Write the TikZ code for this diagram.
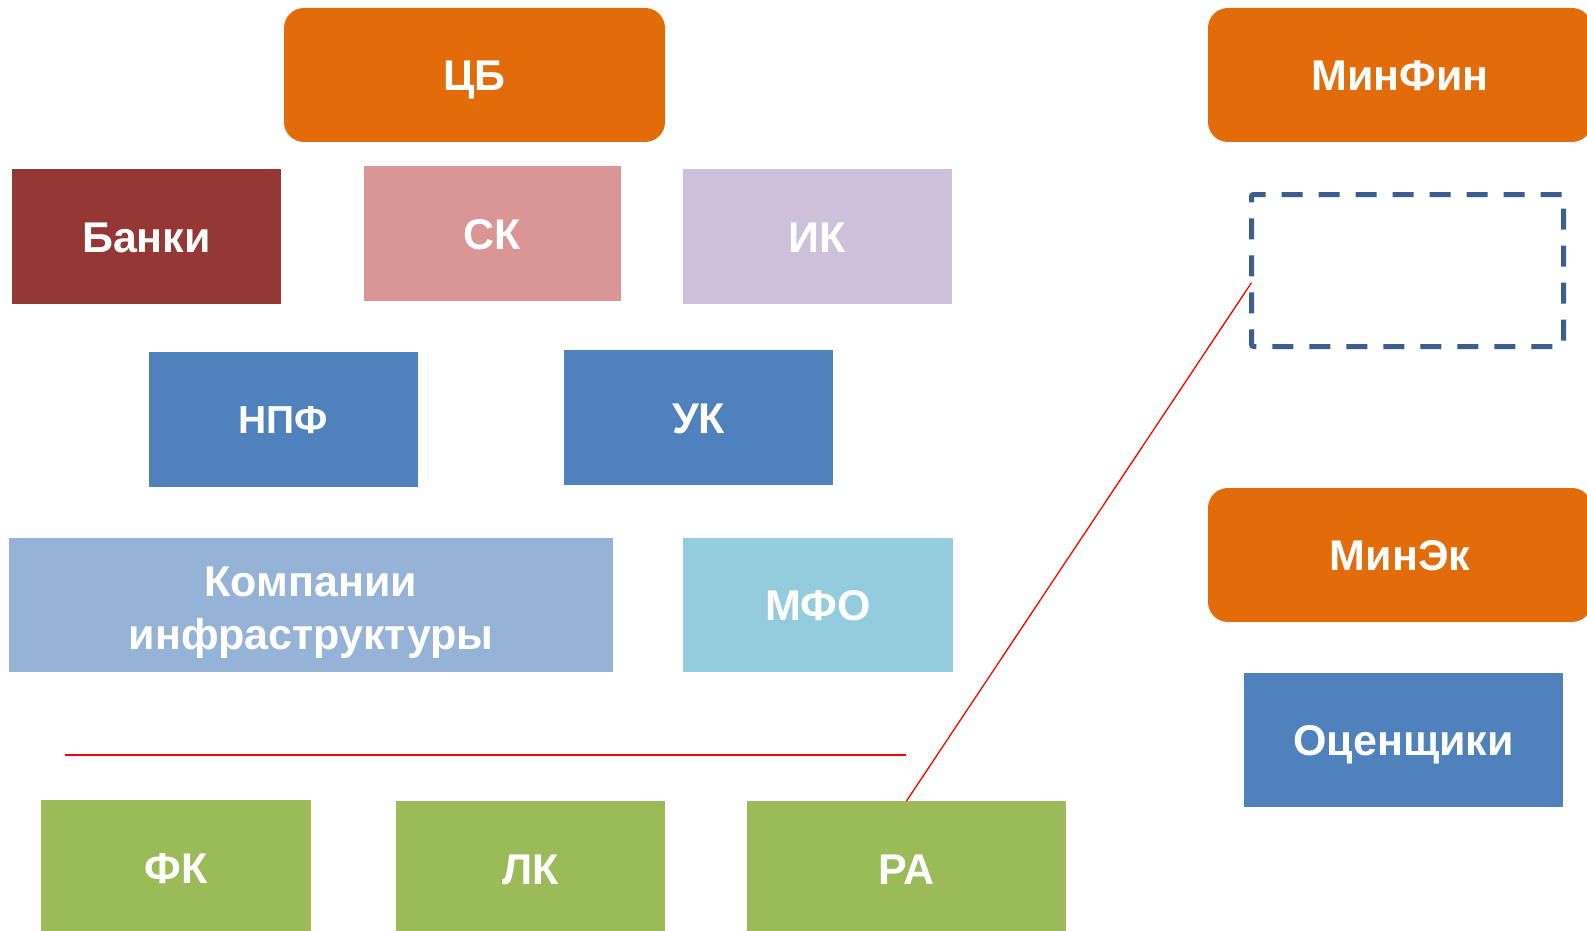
\documentclass[tikz,border=0pt]{standalone}
\usepackage{fontspec}
\setmainfont{Liberation Sans}
\usetikzlibrary{calc}
\definecolor{orangeC}{HTML}{E36C0A}
\definecolor{bankC}{HTML}{953735}
\definecolor{skC}{HTML}{D99694}
\definecolor{ikC}{HTML}{CCC0DA}
\definecolor{blueC}{HTML}{4F81BD}
\definecolor{lblueC}{HTML}{95B3D7}
\definecolor{mfoC}{HTML}{93CDDD}
\definecolor{greenC}{HTML}{9BBB59}
\definecolor{dashC}{HTML}{3B5E8C}
\begin{document}
\begin{tikzpicture}[x=1pt,y=-1pt,
  base/.style={anchor=north west,inner sep=0pt,outer sep=0pt,text=white,
    font=\fontsize{43}{53}\selectfont\bfseries,text height=31pt,text depth=0pt},
  orangebox/.style={base,fill=orangeC,rounded corners=20pt},
  flatbox/.style={base,fill=#1},
  redline/.style={draw=red,line width=1.6pt}]
\useasboundingbox (0,0) rectangle (1587,931);
\fill[white] (0,0) rectangle (1587,931);
% top row
\node[orangebox,minimum width=381pt,minimum height=134pt] (cb) at (284,8) {ЦБ};
\node[orangebox,minimum width=384pt,minimum height=134pt] (minfin) at (1208,8) {МинФин};
\node[flatbox=bankC,minimum width=269pt,minimum height=135pt] (banki) at (12,169) {Банки};
\node[flatbox=skC,minimum width=257pt,minimum height=135pt] (sk) at (364,166) {СК};
\node[flatbox=ikC,minimum width=269pt,minimum height=135pt] (ik) at (683,169) {ИК};
\node[flatbox=blueC,minimum width=269pt,minimum height=135pt,font=\fontsize{39}{48}\selectfont\bfseries,text height=28pt] (npf) at (149,352) {НПФ};
\node[flatbox=blueC,minimum width=269pt,minimum height=135pt] (uk) at (564,350) {УК};
\node[flatbox=lblueC,minimum width=604pt,minimum height=134pt,
  label={[text=white,font=\fontsize{43}{53}\selectfont\bfseries,align=center,yshift=-8pt,inner sep=0pt]center:Компании\\инфраструктуры}] (komp) at (9,538) {};
\node[flatbox=mfoC,minimum width=270pt,minimum height=134pt] (mfo) at (683,538) {МФО};
\node[flatbox=greenC,minimum width=270pt,minimum height=136pt] (fk) at (41,800) {ФК};
\node[flatbox=greenC,minimum width=269pt,minimum height=135pt] (lk) at (396,801) {ЛК};
\node[flatbox=greenC,minimum width=319pt,minimum height=135pt] (ra) at (747,801) {РА};
% right column
\node[draw=dashC,line width=5pt,dash pattern=on 21pt off 16pt,rounded corners=2pt,
  anchor=north west,inner sep=0pt,outer sep=0pt,minimum width=312pt,minimum height=152pt] (dash) at (1251.5,194.5) {};
\node[orangebox,minimum width=384pt,minimum height=134pt] (minek) at (1208,488) {МинЭк};
\node[flatbox=blueC,minimum width=319pt,minimum height=134pt] (ocen) at (1244,673) {Оценщики};
% lines
\coordinate (hl) at (65,755);
\coordinate (hr) at (906,755);
\draw[redline] (hl) -- (hr);
\draw[draw=red,line width=1.3pt] (ra.north) -- ($(dash.north west)!0.58!(dash.south west)$);
\end{tikzpicture}
\end{document}
